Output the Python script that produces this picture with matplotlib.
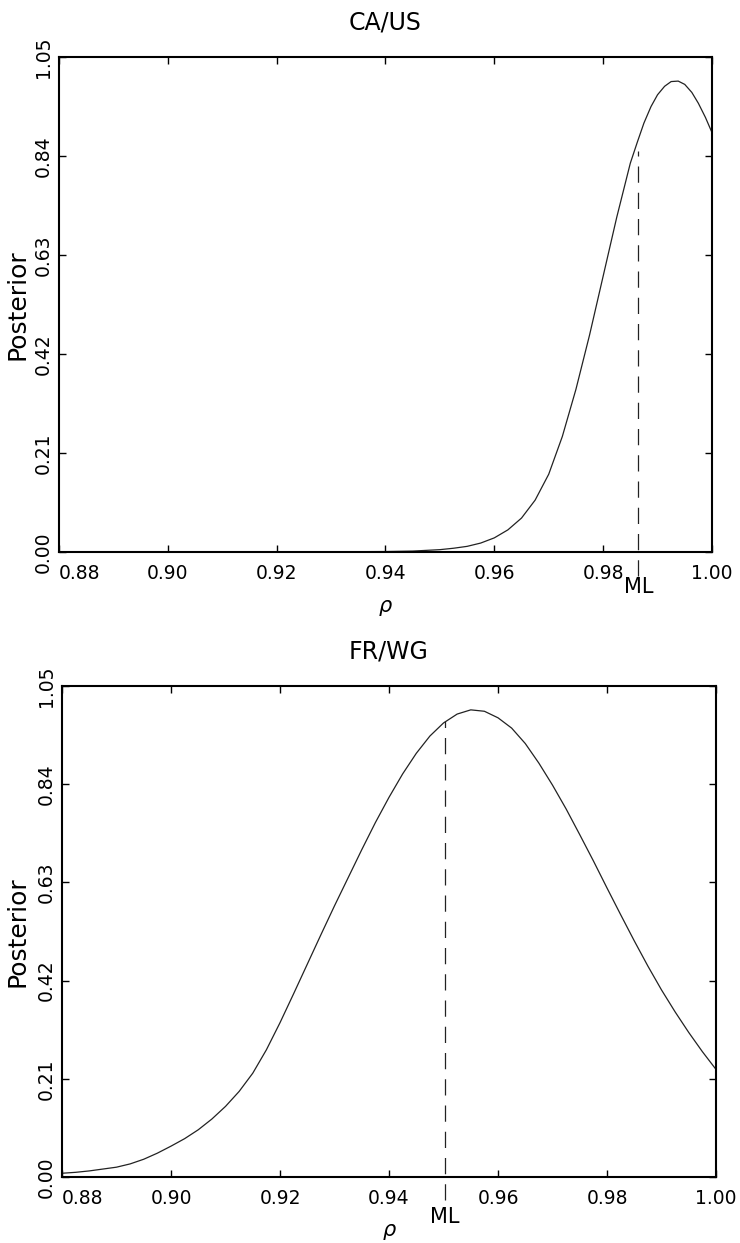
import matplotlib
matplotlib.use("Agg")
import matplotlib.pyplot as plt
import matplotlib.transforms as mtransforms

plt.rcParams['font.family'] = ['DejaVu Sans']

# CA/US posterior
rho_ca = [0.88, 0.90, 0.92, 0.93, 0.94, 0.945, 0.95, 0.9525, 0.955, 0.9575,
          0.96, 0.9625, 0.965, 0.9675, 0.97, 0.9725, 0.975, 0.9775, 0.98,
          0.9825, 0.985, 0.9863, 0.9875, 0.9888, 0.99, 0.9913, 0.9925, 0.9938,
          0.995, 0.9963, 0.9975, 0.9988, 1.00]
post_ca = [0.0, 0.0, 0.0, 0.0005, 0.001, 0.002, 0.005, 0.008, 0.012, 0.019,
           0.030, 0.047, 0.072, 0.11, 0.165, 0.245, 0.345, 0.46, 0.585,
           0.71, 0.825, 0.87, 0.91, 0.945, 0.97, 0.988, 0.998, 0.999,
           0.992, 0.975, 0.952, 0.922, 0.89]

# FR/WG posterior
rho_fr = [0.88, 0.8825, 0.885, 0.8875, 0.89, 0.8925, 0.895, 0.8975, 0.90,
          0.9025, 0.905, 0.9075, 0.91, 0.9125, 0.915, 0.9175, 0.92, 0.9225,
          0.925, 0.9275, 0.93, 0.9325, 0.935, 0.9375, 0.94, 0.9425, 0.945,
          0.9475, 0.95, 0.9525, 0.955, 0.9575, 0.96, 0.9625, 0.965, 0.9675,
          0.97, 0.9725, 0.975, 0.9775, 0.98, 0.9825, 0.985, 0.9875, 0.99,
          0.9925, 0.995, 0.9975, 1.00]
post_fr = [0.008, 0.010, 0.013, 0.017, 0.021, 0.028, 0.038, 0.051, 0.066,
           0.082, 0.101, 0.124, 0.151, 0.183, 0.222, 0.272, 0.330, 0.392,
           0.455, 0.518, 0.580, 0.640, 0.700, 0.758, 0.812, 0.862, 0.906,
           0.943, 0.971, 0.990, 0.999, 0.996, 0.982, 0.960, 0.927, 0.885,
           0.838, 0.787, 0.732, 0.676, 0.618, 0.561, 0.505, 0.451, 0.400,
           0.353, 0.309, 0.268, 0.230]

# maximum likelihood estimates (x, top of dashed line)
ml_ca = (0.9865, 0.85)
ml_fr = (0.9502, 0.975)

xticks = [0.88, 0.90, 0.92, 0.94, 0.96, 0.98, 1.00]
yticks = [0.00, 0.21, 0.42, 0.63, 0.84, 1.05]

fig = plt.figure(figsize=(7.4, 12.43), dpi=100)
ax1 = fig.add_axes([0.0797, 0.5559, 0.8824, 0.3982])
ax2 = fig.add_axes([0.0838, 0.0531, 0.8838, 0.3950])


def style(ax, title, ml, rho, post, ylab_x, xlab_y, ml_y):
    ax.plot(rho, post, color='#222222', lw=0.9)
    ax.plot([ml[0], ml[0]], [-0.05, ml[1]], color='#222222', lw=0.9,
            dashes=(13, 8), clip_on=False)
    ax.set_xlim(0.88, 1.00)
    ax.set_ylim(0.0, 1.05)
    ax.set_xticks(xticks)
    ax.set_yticks(yticks)
    xl = ax.set_xticklabels(["%.2f" % v for v in xticks], fontsize=13.5)
    xl[0].set_ha('left')
    ax.set_yticklabels(["%.2f" % v for v in yticks], fontsize=13.5,
                       rotation=90, va='center')
    ax.tick_params(direction='in', length=5, width=1, top=True, right=True)
    ax.tick_params(axis='x', pad=8.5)
    ax.tick_params(axis='y', pad=4.5)
    for s in ax.spines.values():
        s.set_linewidth(1.5)
    ax.set_title(title, fontsize=17, pad=19.5)
    ax.set_ylabel("Posterior", fontsize=18, va='center')
    ax.yaxis.set_label_coords(ylab_x, 0.5)
    ax.set_xlabel(r"$\rho$", fontsize=15, va='center')
    ax.xaxis.set_label_coords(0.5, xlab_y)
    trans = mtransforms.blended_transform_factory(ax.transData, ax.transAxes)
    ax.text(ml[0], ml_y, "ML", transform=trans, ha='center', va='center',
            fontsize=15)


style(ax1, "CA/US", ml_ca, rho_ca, post_ca, -0.0628, -0.113, -0.071)
style(ax2, "FR/WG", ml_fr, rho_fr, post_fr, -0.0673, -0.112, -0.081)

fig.savefig("out.png", dpi=100)
